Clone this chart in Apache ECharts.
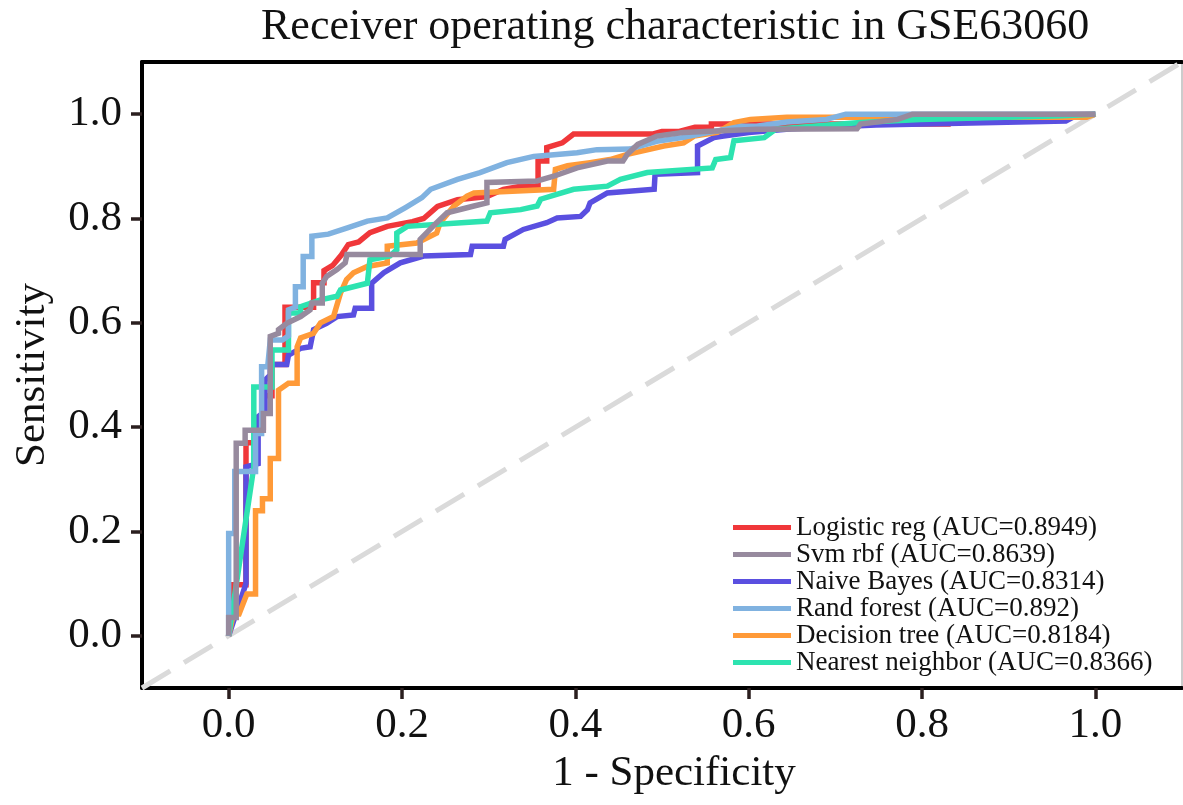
<!DOCTYPE html>
<html>
<head>
<meta charset="utf-8">
<title>ROC GSE63060</title>
<script src="https://cdn.jsdelivr.net/npm/echarts@6/dist/echarts.min.js"></script>
<style>
  html, body { margin: 0; padding: 0; background: #fff; }
  #chart { width: 1183px; height: 805px; }
</style>
</head>
<body>
<div id="chart"></div>
<script>
// model names and AUC values (legend order)
const modelNames = ['Logistic reg', 'Svm rbf', 'Naive Bayes', 'Rand forest', 'Decision tree', 'Nearest neighbor'];
const aucValues = ['0.8949', '0.8639', '0.8314', '0.892', '0.8184', '0.8366'];
const modelColors = ['#f0373a', '#978a9e', '#5a4fe0', '#80b2e0', '#ff9a38', '#2de3b0'];

// tick labels on both axes
const tickValues = [0, 0.2, 0.4, 0.6, 0.8, 1.0];

// ROC curves, [1 - specificity, sensitivity] corner points
const logisticRoc = [
  [0, 0], [0.004, 0.067], [0.004, 0.098], [0.02, 0.098], [0.02, 0.37], [0.03, 0.37], [0.03, 0.40],
  [0.04, 0.40], [0.04, 0.46], [0.05, 0.46], [0.05, 0.52], [0.065, 0.52], [0.065, 0.63], [0.098, 0.63],
  [0.098, 0.677], [0.11, 0.677], [0.11, 0.70], [0.12, 0.71], [0.13, 0.73], [0.138, 0.75], [0.15, 0.755],
  [0.163, 0.773], [0.183, 0.785], [0.212, 0.794], [0.225, 0.80], [0.241, 0.823], [0.264, 0.836],
  [0.298, 0.842], [0.317, 0.856], [0.337, 0.862], [0.357, 0.862], [0.357, 0.91], [0.367, 0.91],
  [0.367, 0.936], [0.385, 0.945], [0.398, 0.962], [0.49, 0.962], [0.5, 0.967], [0.52, 0.967],
  [0.538, 0.975], [0.557, 0.975], [0.557, 0.981], [0.83, 0.981], [0.83, 0.995], [1, 1]
];
const svmRoc = [
  [0, 0], [0, 0.035], [0.0087, 0.035], [0.0087, 0.369], [0.019, 0.369], [0.019, 0.394], [0.04, 0.394],
  [0.04, 0.426], [0.048, 0.426], [0.048, 0.574], [0.0575, 0.58], [0.0575, 0.587], [0.067, 0.599],
  [0.083, 0.612], [0.094, 0.625], [0.096, 0.638], [0.108, 0.638], [0.108, 0.676], [0.113, 0.689],
  [0.125, 0.702], [0.1345, 0.715], [0.1365, 0.731], [0.221, 0.731], [0.221, 0.76], [0.24, 0.792],
  [0.252, 0.811], [0.283, 0.824], [0.298, 0.83], [0.298, 0.869], [0.356, 0.872], [0.375, 0.881],
  [0.402, 0.897], [0.437, 0.91], [0.455, 0.91], [0.46, 0.923], [0.472, 0.942], [0.494, 0.958],
  [0.524, 0.965], [0.609, 0.971], [0.725, 0.972], [0.729, 0.981], [0.772, 0.99], [0.789, 1.0], [1, 1]
];
const bayesRoc = [
  [0, 0], [0.02, 0.1], [0.02, 0.324], [0.034, 0.33], [0.034, 0.42], [0.042, 0.43], [0.042, 0.49],
  [0.048, 0.50], [0.048, 0.52], [0.067, 0.52], [0.069, 0.538], [0.083, 0.551], [0.094, 0.554],
  [0.098, 0.587], [0.113, 0.599], [0.125, 0.612], [0.144, 0.615], [0.146, 0.628], [0.165, 0.628],
  [0.165, 0.676], [0.179, 0.696], [0.198, 0.715], [0.225, 0.728], [0.279, 0.731], [0.281, 0.747],
  [0.317, 0.747], [0.319, 0.76], [0.34, 0.779], [0.367, 0.792], [0.379, 0.801], [0.406, 0.804],
  [0.414, 0.817], [0.417, 0.83], [0.437, 0.849], [0.491, 0.856], [0.492, 0.885], [0.541, 0.888],
  [0.541, 0.939], [0.56, 0.955], [0.571, 0.958], [0.6, 0.965], [0.65, 0.972], [0.747, 0.979],
  [0.966, 0.987], [0.974, 0.994], [1, 1]
];
const forestRoc = [
  [0, 0], [0, 0.196], [0.007, 0.196], [0.007, 0.315], [0.031, 0.315], [0.031, 0.388], [0.038, 0.388],
  [0.038, 0.516], [0.045, 0.516], [0.048, 0.567], [0.062, 0.567], [0.069, 0.575], [0.069, 0.625],
  [0.077, 0.63], [0.077, 0.669], [0.086, 0.669], [0.086, 0.727], [0.096, 0.727], [0.096, 0.766],
  [0.115, 0.77], [0.137, 0.782], [0.16, 0.795], [0.183, 0.801], [0.204, 0.821], [0.223, 0.84],
  [0.233, 0.856], [0.264, 0.875], [0.29, 0.888], [0.321, 0.907], [0.352, 0.919], [0.402, 0.926],
  [0.425, 0.932], [0.463, 0.933], [0.494, 0.948], [0.523, 0.955], [0.592, 0.977], [0.609, 0.977],
  [0.644, 0.985], [0.69, 0.99], [0.712, 1.0], [1, 1]
];
const treeRoc = [
  [0, 0], [0.0055, 0.042], [0.012, 0.042], [0.021, 0.08], [0.031, 0.08], [0.031, 0.24], [0.039, 0.24],
  [0.039, 0.263], [0.048, 0.263], [0.048, 0.34], [0.0575, 0.34], [0.0575, 0.471], [0.069, 0.484],
  [0.079, 0.484], [0.079, 0.554], [0.083, 0.571], [0.098, 0.58], [0.106, 0.6], [0.121, 0.612],
  [0.129, 0.657], [0.136, 0.683], [0.144, 0.696], [0.16, 0.708], [0.183, 0.715], [0.183, 0.747],
  [0.217, 0.753], [0.24, 0.772], [0.244, 0.792], [0.26, 0.824], [0.275, 0.843], [0.283, 0.849],
  [0.375, 0.856], [0.377, 0.894], [0.391, 0.901], [0.417, 0.907], [0.44, 0.913], [0.46, 0.923],
  [0.502, 0.939], [0.525, 0.945], [0.537, 0.958], [0.564, 0.965], [0.583, 0.984], [0.602, 0.99],
  [0.644, 0.994], [0.99, 0.994], [1, 1]
];
const neighborRoc = [
  [0, 0], [0.029, 0.324], [0.029, 0.477], [0.05, 0.477], [0.05, 0.548], [0.069, 0.548], [0.069, 0.619],
  [0.083, 0.619], [0.083, 0.631], [0.106, 0.644], [0.125, 0.651], [0.129, 0.663], [0.16, 0.676],
  [0.163, 0.721], [0.186, 0.728], [0.194, 0.74], [0.194, 0.772], [0.206, 0.785], [0.298, 0.795],
  [0.302, 0.811], [0.337, 0.817], [0.356, 0.824], [0.36, 0.837], [0.398, 0.856], [0.437, 0.862],
  [0.452, 0.875], [0.483, 0.888], [0.558, 0.897], [0.562, 0.913], [0.579, 0.917], [0.583, 0.949],
  [0.618, 0.955], [0.631, 0.971], [0.729, 0.984], [0.798, 0.99], [0.961, 0.997], [1, 1]
];
const chanceLine = [[-0.1, -0.1], [1.1, 1.1]];

const rocCurves = [logisticRoc, svmRoc, bayesRoc, forestRoc, treeRoc, neighborRoc];
// drawing order, grey on top like the picture
const curveZ = [2, 7, 3, 6, 4, 5];

const FONT = '"Liberation Serif", "Times New Roman", serif';
const chart = echarts.init(document.getElementById('chart'));

const legendNames = modelNames.map((n, i) => `${n} (AUC=${aucValues[i]})`);

const rocSeries = rocCurves.map((pts, i) => ({
  name: legendNames[i],
  type: 'line',
  data: pts,
  symbol: 'none',
  z: curveZ[i],
  color: modelColors[i],
  lineStyle: { width: 5.5, color: modelColors[i], join: 'miter' },
  animation: false
}));

const axisCommon = {
  type: 'value',
  min: -0.1,
  max: 1.1,
  splitLine: { show: false },
  axisLine: { show: true, onZero: false, lineStyle: { color: '#000', width: 4 } },
  axisTick: {
    show: true,
    length: 11,
    customValues: tickValues,
    lineStyle: { color: '#2a1e1e', width: 3.5 }
  },
  axisLabel: {
    customValues: tickValues,
    formatter: v => v.toFixed(1),
    fontFamily: FONT,
    fontSize: 43,
    color: '#111'
  },
  nameTextStyle: { fontFamily: FONT, fontSize: 43, color: '#111' }
};

const option = {
  backgroundColor: '#fff',
  animation: false,
  title: {
    text: 'Receiver operating characteristic in GSE63060',
    left: 256,
    top: 0,
    textStyle: { fontFamily: FONT, fontSize: 44, fontWeight: 'normal', color: '#111' }
  },
  grid: {
    left: 142,
    right: 1,
    top: 62,
    bottom: 117,
    show: true,
    borderColor: '#999',
    borderWidth: 1
  },
  legend: {
    orient: 'vertical',
    left: 733,
    top: 514,
    padding: 0,
    itemWidth: 58,
    itemHeight: 5,
    itemGap: 0,
    icon: 'rect',
    data: legendNames,
    textStyle: { fontFamily: FONT, fontSize: 27, lineHeight: 27, color: '#111' }
  },
  xAxis: [
    Object.assign({}, axisCommon, {
      position: 'bottom',
      name: '1 - Specificity',
      nameLocation: 'middle',
      nameGap: 63,
      nameTextStyle: Object.assign({}, axisCommon.nameTextStyle, { padding: [0, 0, 0, 24] }),
      axisLabel: Object.assign({}, axisCommon.axisLabel, { margin: 16 })
    }),
    {
      type: 'value', min: -0.1, max: 1.1, position: 'top',
      axisLine: { show: true, onZero: false, lineStyle: { color: '#000', width: 4 } },
      axisTick: { show: false }, axisLabel: { show: false }, splitLine: { show: false }
    }
  ],
  yAxis: [
    Object.assign({}, axisCommon, {
      position: 'left',
      name: 'Sensitivity',
      nameLocation: 'middle',
      nameGap: 88,
      axisLabel: Object.assign({}, axisCommon.axisLabel, { margin: 20 })
    })
  ],
  series: [
    {
      name: 'chance',
      type: 'line',
      data: chanceLine,
      symbol: 'none',
      z: 1,
      silent: true,
      lineStyle: { color: '#dadada', width: 5, type: [33, 16] }
    }
  ].concat(rocSeries)
};

chart.setOption(option);
</script>
</body>
</html>
